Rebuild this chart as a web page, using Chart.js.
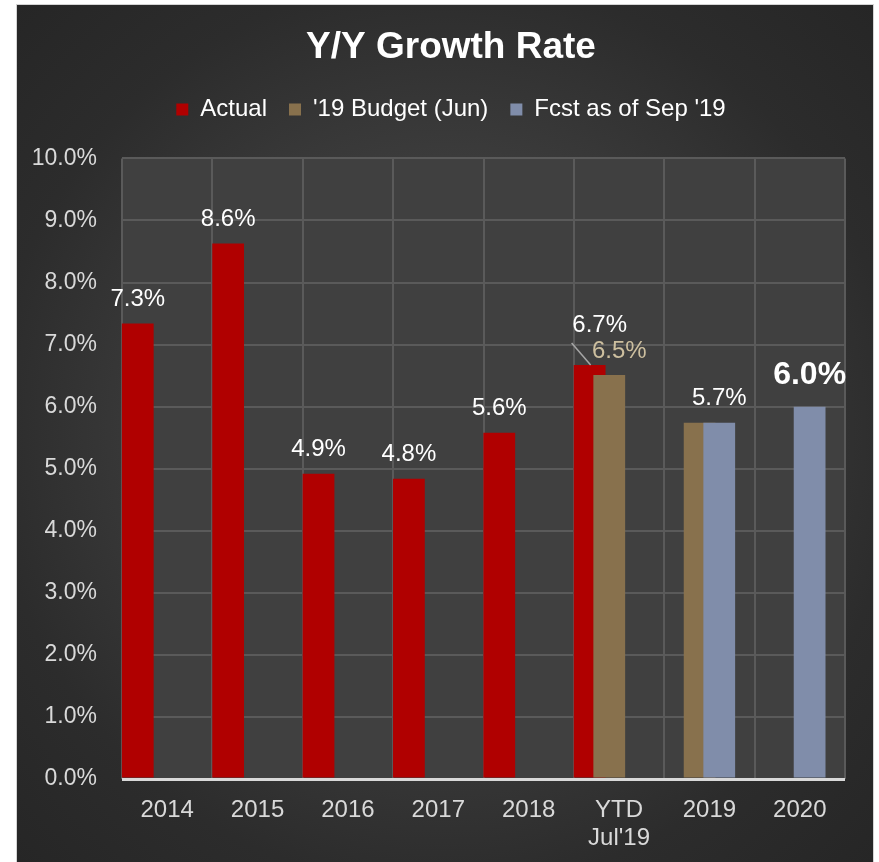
<!DOCTYPE html>
<html>
<head>
<meta charset="utf-8">
<script src="https://cdn.jsdelivr.net/npm/chart.js@4"></script>
<style>
  html, body { margin: 0; padding: 0; background: #fff; overflow: hidden; }
  .frame {
    position: absolute; left: 16px; top: 4px;
    width: 856px; height: 858px;
    border: 1px solid #d4d4d4;
    background: radial-gradient(circle farthest-corner at 50% 50%, #474747 0%, #3e3e3e 40%, #2c2c2c 75%, #262626 100%);
  }
  canvas { display: block; }
</style>
</head>
<body>
<div class="frame"><canvas id="growthChart" width="856" height="858"></canvas></div>
<script>
var categories = ['2014', '2015', '2016', '2017', '2018', ['YTD', "Jul'19"], '2019', '2020'];
var actual = [7.34, 8.63, 4.92, 4.84, 5.58, 6.67, null, null];
var budget = [null, null, null, null, null, 6.51, 5.74, null];
var forecast = [null, null, null, null, null, null, 5.74, 6.0];
var yTicks = [0, 1, 2, 3, 4, 5, 6, 7, 8, 9, 10];

var FONT = "'Liberation Sans', Arial, sans-serif";

// which points get a value label, and how it looks
var labelStyle = [
  { show: [0, 1, 2, 3, 4, 5], color: '#ffffff', size: 24, weight: 'normal' },
  { show: [5], color: '#cdbf9f', size: 24, weight: 'normal' },
  { show: [6, 7], color: '#ffffff', size: 24, weight: 'normal' }
];

// plot area fill
var plotBg = {
  id: 'plotBg',
  beforeDraw: function(chart) {
    var a = chart.chartArea, ctx = chart.ctx;
    ctx.save();
    ctx.fillStyle = '#404040';
    ctx.fillRect(a.left, a.top, a.right - a.left, a.bottom - a.top);
    ctx.restore();
  }
};

// Excel draws later series on top of earlier ones
var forwardDraw = {
  id: 'forwardDraw',
  beforeDatasetsDraw: function(chart) {
    chart.getSortedVisibleDatasetMetas().forEach(function(meta) { meta.controller.draw(); });
    return false;
  }
};

var valueLabels = {
  id: 'valueLabels',
  afterDraw: function(chart) {
    var ctx = chart.ctx;
    ctx.save();
    ctx.textAlign = 'center';
    ctx.textBaseline = 'middle';
    labelStyle.forEach(function(st, di) {
      var meta = chart.getDatasetMeta(di);
      var data = chart.data.datasets[di].data;
      st.show.forEach(function(i) {
        var bar = meta.data[i];
        if (!bar || data[i] == null) return;
        var x = bar.x, y = bar.y - 24, size = st.size, weight = st.weight;
        if (di === 0 && i === 5) {
          // pulled-out label with leader line
          x = bar.x + 10; y = bar.y - 40;
          ctx.strokeStyle = '#a6a6a6';
          ctx.lineWidth = 1.5;
          ctx.beginPath();
          ctx.moveTo(bar.x - 18, bar.y - 22);
          ctx.lineTo(bar.x + 1, bar.y);
          ctx.stroke();
        }
        if (di === 1 && i === 5) { x = bar.x + 10; }
        if (di === 2 && i === 7) { size = 32; weight = 'bold'; y = bar.y - 31; }
        ctx.font = weight + ' ' + size + 'px ' + FONT;
        ctx.fillStyle = st.color;
        ctx.fillText(data[i].toFixed(1) + '%', x, y);
      });
    });
    ctx.restore();
  }
};

new Chart(document.getElementById('growthChart'), {
  type: 'bar',
  data: {
    labels: categories,
    datasets: [
      { label: 'Actual', data: actual, backgroundColor: '#b00000' },
      { label: "'19 Budget (Jun)", data: budget, backgroundColor: '#88714d' },
      { label: "Fcst as of Sep '19", data: forecast, backgroundColor: '#808daa' },
      { label: '', data: [null, null, null, null, null, null, null, null], backgroundColor: 'rgba(0,0,0,0)' }
    ]
  },
  options: {
    responsive: false,
    animation: false,
    categoryPercentage: 0.868,
    barPercentage: 1.62,
    layout: { padding: { left: 14, right: 2, top: 0, bottom: 14 } },
    plugins: {
      tooltip: { enabled: false },
      title: {
        display: true,
        text: 'Y/Y Growth Rate',
        color: '#ffffff',
        font: { family: FONT, size: 37, weight: 'bold' },
        padding: { top: 21, bottom: 5 }
      },
      legend: {
        position: 'top',
        labels: {
          color: '#ffffff',
          font: { family: FONT, size: 24 },
          boxWidth: 12,
          boxHeight: 12,
          padding: 22,
          filter: function(item) { return item.text !== ''; }
        }
      }
    },
    scales: {
      x: {
        grid: { color: '#5a5a5a', lineWidth: 2, drawTicks: false },
        border: { display: false },
        ticks: { color: '#d9d9d9', font: { family: FONT, size: 24, lineHeight: 1.15 }, padding: 18, maxRotation: 0 },
        afterFit: function(axis) { axis.height = 70; }
      },
      // empty strip between legend and plot
      xTop: {
        type: 'category',
        position: 'top',
        grid: { display: false },
        border: { display: false },
        ticks: { display: false },
        afterFit: function(axis) { axis.height = 27; }
      },
      y: {
        min: 0,
        max: 10,
        afterBuildTicks: function(axis) { axis.ticks = yTicks.map(function(v) { return { value: v }; }); },
        afterFit: function(axis) { axis.width = 91; },
        grid: {
          drawTicks: false,
          color: function(c) { return c.tick && c.tick.value === 0 ? '#d9d9d9' : '#5a5a5a'; },
          lineWidth: function(c) { return c.tick && c.tick.value === 0 ? 3 : 2; }
        },
        border: { display: false },
        ticks: {
          color: '#d9d9d9',
          font: { family: FONT, size: 23 },
          padding: 25,
          callback: function(v) { return v.toFixed(1) + '%'; }
        }
      },
      // empty strip right of the plot
      yRight: {
        type: 'linear',
        position: 'right',
        grid: { display: false },
        border: { display: false },
        ticks: { display: false },
        afterFit: function(axis) { axis.width = 26; }
      }
    }
  },
  plugins: [plotBg, forwardDraw, valueLabels]
});
</script>
</body>
</html>
